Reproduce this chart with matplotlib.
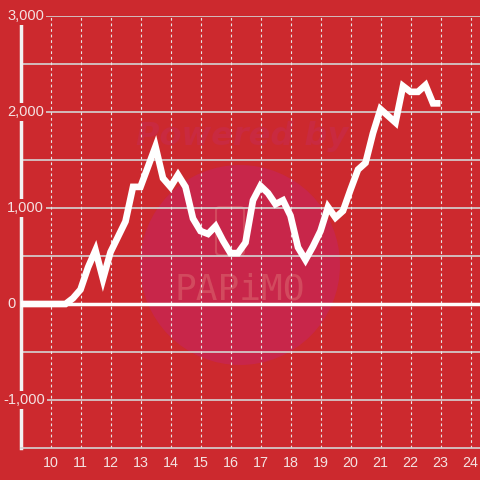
import matplotlib
matplotlib.use("Agg")
import matplotlib.pyplot as plt
from matplotlib.patches import Circle, FancyBboxPatch

# ---- data ----
hours = [9.0, 10.5, 10.75, 11.0, 11.25, 11.5, 11.75, 12.0, 12.25, 12.5, 12.75, 13.0,
         13.25, 13.5, 13.75, 14.0, 14.25, 14.5, 14.75, 15.0, 15.25, 15.5, 15.75,
         16.0, 16.25, 16.5, 16.75, 17.0, 17.25, 17.5, 17.75, 18.0, 18.25, 18.5,
         18.75, 19.0, 19.25, 19.5, 19.75, 20.0, 20.25, 20.5, 20.75, 21.0, 21.25,
         21.5, 21.75, 22.0, 22.25, 22.5, 22.75, 23.0]
values = [0, 0, 60, 150, 380, 560, 260, 540, 700, 860, 1220, 1220,
          1430, 1640, 1310, 1220, 1345, 1220, 890, 760, 730, 810, 660,
          530, 530, 640, 1080, 1230, 1155, 1040, 1080, 920, 590, 460,
          600, 760, 1010, 900, 970, 1190, 1400, 1470, 1780, 2030, 1960,
          1890, 2270, 2210, 2210, 2280, 2090, 2090]
x_ticks = list(range(10, 25))
y_ticks = [-1000, 0, 1000, 2000, 3000]
y_labels = ["-1,000", "0", "1,000", "2,000", "3,000"]
y_grid = [-1000, -500, 500, 1000, 1500, 2000, 2500, 3000]

BG = "#cc292e"
TXT = "#f4e2e2"
GRID = "#d4d4d4"

fig = plt.figure(figsize=(4.8, 4.8), dpi=100, facecolor=BG)
L = 20.5 / 480
B = (480 - 448) / 480
H = 432 / 480
ax = fig.add_axes([L, B, 1 - L, H])
ax.set_facecolor("none")
ax.set_xlim(9, 9 + (480 - 20.5) / 30)
ax.set_ylim(-1500, 3000)

# watermark
circ = Circle((240 / 480, 1 - 265 / 480), 100 / 480, transform=fig.transFigure,
              facecolor="#c8264a", edgecolor="none", zorder=-5)
fig.patches.append(circ)
fig.text(242 / 480, 1 - 136 / 480, "Powered by", transform=fig.transFigure,
         ha="center", va="center", fontsize=23, fontweight="heavy", fontstyle="italic",
         color="#c92a40", family="DejaVu Sans", zorder=-4)
box = FancyBboxPatch((216 / 480, 1 - 255 / 480), 28 / 480, 48 / 480,
                     boxstyle="round,pad=0,rounding_size=0.008", transform=fig.transFigure,
                     facecolor="none", edgecolor="#d24a5e", linewidth=1.5, zorder=-4)
fig.patches.append(box)
fig.text(240 / 480, 1 - 290 / 480, "PAPiMO", transform=fig.transFigure,
         ha="center", va="center", fontsize=26, color="#d24a5e",
         family="DejaVu Sans Mono", zorder=-4)

# grid
for g in y_grid:
    ax.axhline(g, color=GRID, lw=1.2, zorder=1)
for t in x_ticks:
    ax.axvline(t, color="#e6e6e6", lw=0.8, linestyle=(0, (2.5, 2.5)), zorder=1)
ax.axhline(0, color="white", lw=2.5, zorder=2)

ax.plot(hours, values, color="white", lw=4.8, solid_joinstyle="miter",
        solid_capstyle="butt", zorder=3)

for s in ["top", "right"]:
    ax.spines[s].set_visible(False)
ax.spines["left"].set_color("#f2f2f2")
ax.spines["left"].set_linewidth(2.5)
ax.spines["bottom"].set_color(GRID)
ax.spines["bottom"].set_linewidth(1.2)

ax.set_yticks([])
ax.set_xticks(x_ticks)
ax.set_xticklabels([str(t) for t in x_ticks], color=TXT, fontsize=10.3,
                   family="Liberation Sans")
ax.tick_params(axis="x", length=0, pad=6)

for v, lab in zip(y_ticks, y_labels):
    yfig = B + H * (v + 1500) / 4500
    xfig = (3 if v < 0 else 7) / 480
    fig.text(xfig, yfig, lab, ha="left", va="center", color=TXT, fontsize=10.5,
             family="Liberation Sans", zorder=10,
             bbox=dict(facecolor=BG, edgecolor="none", pad=1.5))

fig.savefig("out.png", dpi=100, facecolor=BG)
